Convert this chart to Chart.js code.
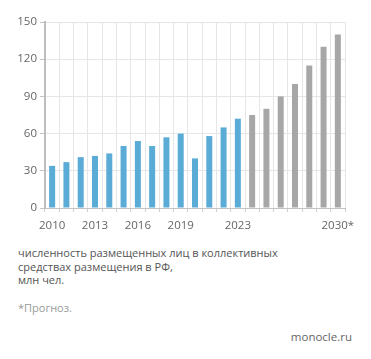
<!DOCTYPE html>
<html>
<head>
<meta charset="utf-8">
<script src="https://cdn.jsdelivr.net/npm/chart.js@4"></script>
<style>
  body { margin: 0; background: #fff; font-family: "Open Sans", sans-serif; }
  #wrap { position: relative; width: 371px; height: 359px; }
  #chart-box { position: absolute; left: 0; top: 0; width: 371px; height: 238px; }
  .caption { position: absolute; left: 18px; top: 246px; font-size: 11px; line-height: 13.5px; color: #555; }
  .note { position: absolute; left: 18px; top: 300px; font-size: 11px; color: #9a9a9a; }
  .src { position: absolute; right: 19px; top: 329px; font-size: 11.5px; color: #666; }
</style>
</head>
<body>
<div id="wrap">
  <div id="chart-box"><canvas id="visitors-chart"></canvas></div>
  <div class="caption">численность размещенных лиц в коллективных<br>средствах размещения в РФ,<br>млн чел.</div>
  <div class="note">*Прогноз.</div>
  <div class="src">monocle.ru</div>
</div>
<script>
const years = ['2010', '2011', '2012', '2013', '2014', '2015', '2016', '2017', '2018', '2019', '2020',
    '2021', '2022', '2023', '2024', '2025', '2026', '2027', '2028', '2029', '2030*'];
const visitors = [34, 37, 41, 42, 44, 50, 54, 50, 57, 60, 40, 58, 65, 72, 75, 80, 90, 100, 115, 130, 140];
const shownYears = ['2010', '2013', '2016', '2019', '2023', '2030*'];
const yTicks = [0, 30, 60, 90, 120, 150];

const FACT_COLOR = '#5aabd6';
const FORECAST_COLOR = '#a7a7a7';
const barColors = years.map(y => Number(y.slice(0, 4)) <= 2023 ? FACT_COLOR : FORECAST_COLOR);

const el = document.getElementById('visitors-chart');

new Chart(el, {
    type: 'bar',
    data: {
        labels: years,
        datasets: [{ data: visitors, backgroundColor: barColors, barPercentage: 0.42, categoryPercentage: 1 }]
    },
    options: {
        responsive: true,
        maintainAspectRatio: false,
        animation: false,
        layout: { padding: { top: 22, right: 26, left: 0, bottom: 0 } },
        plugins: { legend: { display: false }, tooltip: { enabled: false } },
        scales: {
            x: {
                afterFit: scale => { scale.height = 30; },
                grid: { color: '#e6e6e6', tickColor: '#d0d0d0', tickLength: 4, offset: true },
                border: { color: '#c4c4c4', width: 1 },
                ticks: {
                    autoSkip: false,
                    maxRotation: 0,
                    padding: 7,
                    color: '#666',
                    font: { family: 'Open Sans', size: 11.5 },
                    callback: function (value) {
                        const label = this.getLabelForValue(value);
                        return shownYears.includes(label) ? label : '';
                    }
                }
            },
            y: {
                min: 0,
                max: 150,
                afterFit: scale => { scale.width = 45; },
                afterBuildTicks: scale => { scale.ticks = yTicks.map(v => ({ value: v })); },
                grid: { color: '#e6e6e6', tickColor: '#c4c4c4', tickLength: 5 },
                border: { color: '#bdbdbd', width: 2 },
                ticks: {
                    padding: 3,
                    color: '#666',
                    font: { family: 'Open Sans', size: 11.5 }
                }
            }
        }
    }
});
</script>
</body>
</html>
